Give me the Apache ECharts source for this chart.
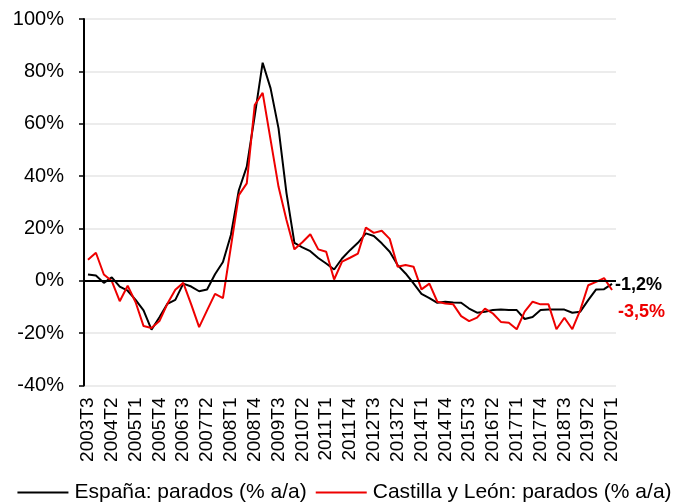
<!DOCTYPE html>
<html>
<head>
<meta charset="utf-8">
<script src="https://cdn.jsdelivr.net/npm/echarts@6/dist/echarts.min.js"></script>
<style>
html,body{margin:0;padding:0;background:#fff;}
#chart{width:689px;height:504px;}
</style>
</head>
<body>
<div id="chart"></div>
<script>
var categories = [
  "2003T3","2003T4","2004T1","2004T2","2004T3","2004T4","2005T1","2005T2","2005T3","2005T4",
  "2006T1","2006T2","2006T3","2006T4","2007T1","2007T2","2007T3","2007T4","2008T1","2008T2",
  "2008T3","2008T4","2009T1","2009T2","2009T3","2009T4","2010T1","2010T2","2010T3","2010T4",
  "2011T1","2011T2","2011T3","2011T4","2012T1","2012T2","2012T3","2012T4","2013T1","2013T2",
  "2013T3","2013T4","2014T1","2014T2","2014T3","2014T4","2015T1","2015T2","2015T3","2015T4",
  "2016T1","2016T2","2016T3","2016T4","2017T1","2017T2","2017T3","2017T4","2018T1","2018T2",
  "2018T3","2018T4","2019T1","2019T2","2019T3","2019T4","2020T1"
];
var espana = [
  2.4, 2.0, -0.8, 1.3, -2.2, -3.8, -7.3, -11.3, -18.7, -13.9,
  -8.8, -7.3, -1.1, -2.2, -4.0, -3.3, 2.5, 7.2, 17.5, 34.6,
  43.6, 63.0, 83.3, 73.5, 58.2, 33.5, 14.5, 12.8, 11.3, 8.7,
  6.6, 4.3, 8.5, 11.7, 14.5, 18.1, 17.1, 14.3, 11.1, 6.0,
  2.8, -1.0, -5.0, -6.6, -8.4, -8.0, -8.3, -8.4, -10.6, -12.2,
  -11.8, -11.2, -11.0, -11.2, -11.2, -14.6, -13.8, -11.2, -11.0, -11.0,
  -11.0, -12.2, -11.8, -7.4, -3.3, -3.2, -1.2
];
var castillaLeon = [
  8.0, 10.7, 2.4, -0.1, -7.8, -1.9, -8.2, -17.3, -18.0, -15.4,
  -8.8, -3.4, -0.8, -9.0, -17.7, -11.3, -5.0, -6.6, 13.0, 32.7,
  37.2, 67.1, 71.8, 53.8, 35.9, 23.2, 12.0, 14.7, 17.8, 12.0,
  11.1, 0.5, 7.3, 8.8, 10.4, 20.3, 18.3, 19.1, 16.0, 5.4,
  6.0, 5.4, -3.3, -1.1, -8.0, -8.7, -9.0, -13.5, -15.4, -14.1,
  -10.6, -12.5, -15.7, -16.0, -18.5, -11.8, -8.0, -9.0, -9.0, -18.5,
  -14.1, -18.5, -11.2, -1.7, -0.4, 1.0, -3.5
];
var seriesNames = ["España: parados (% a/a)", "Castilla y León: parados (% a/a)"];
var yMin = -40, yMax = 100, yStep = 20;

var FONT = "'Liberation Sans', Arial, sans-serif";
var RED = "#ee0000";
function fmtPct(v){ return v.toFixed(1).replace('.', ',') + '%'; }

var chart = echarts.init(document.getElementById('chart'), null, {renderer:'canvas'});
chart.setOption({
  animation: false,
  backgroundColor: '#fff',
  textStyle: { fontFamily: FONT },
  grid: { left: 84, right: 73, top: 19, bottom: 118.5, containLabel: false },
  legend: {
    bottom: -4,
    left: 'center',
    itemWidth: 51,
    itemHeight: 2,
    itemGap: 9,
    icon: 'rect',
    textStyle: { fontFamily: FONT, fontSize: 21, color: '#000', padding: [0,0,0,1] },
    data: seriesNames
  },
  xAxis: {
    type: 'category',
    data: categories,
    boundaryGap: true,
    axisLine: { show: false, onZero: false },
    axisTick: { show: false },
    splitLine: { show: false },
    axisLabel: {
      interval: 2,
      rotate: 90,
      margin: 12,
      fontFamily: FONT,
      fontSize: 19,
      color: '#000'
    }
  },
  yAxis: {
    type: 'value',
    min: yMin, max: yMax, interval: yStep,
    axisLine: { show: true, lineStyle: { color: '#000', width: 2 } },
    axisTick: { show: true, length: 5, lineStyle: { color: '#000', width: 1.5 } },
    splitLine: { show: true, lineStyle: { color: '#e6e6e6', width: 1.5 } },
    axisLabel: {
      formatter: '{value}%',
      margin: 20,
      fontFamily: FONT,
      fontSize: 20,
      color: '#000'
    }
  },
  series: [
    {
      name: seriesNames[0],
      type: 'line',
      data: espana,
      symbol: 'none',
      color: '#000',
      lineStyle: { color: '#000', width: 2 },
      endLabel: {
        show: true,
        formatter: function(p){ return fmtPct(p.value); },
        distance: 3,
        offset: [0, 1],
        fontFamily: FONT,
        fontSize: 18,
        fontWeight: 'bold',
        color: '#000'
      },
      markLine: {
        silent: true,
        symbol: 'none',
        label: { show: false },
        lineStyle: { color: '#000', width: 2, type: 'solid' },
        data: [{ yAxis: 0 }]
      }
    },
    {
      name: seriesNames[1],
      type: 'line',
      data: castillaLeon,
      symbol: 'none',
      color: RED,
      lineStyle: { color: RED, width: 2 },
      endLabel: {
        show: true,
        formatter: function(p){ return fmtPct(p.value); },
        distance: 6,
        offset: [0, 22],
        fontFamily: FONT,
        fontSize: 18,
        fontWeight: 'bold',
        color: RED
      }
    }
  ]
});
</script>
</body>
</html>
